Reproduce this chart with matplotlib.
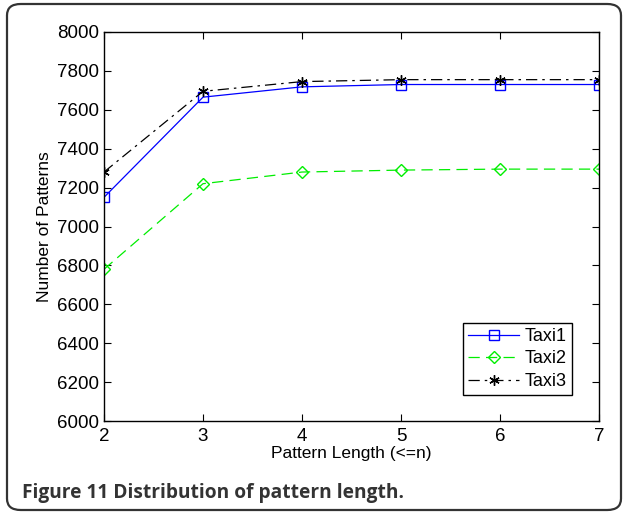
import numpy as np
import matplotlib.pyplot as plt
from matplotlib.patches import FancyBboxPatch

# ======================================================
# Data
# ======================================================

lengths = [2, 3, 4, 5, 6, 7]
taxi1 = [7150, 7665, 7718, 7730, 7730, 7730]
taxi2 = [6780, 7220, 7280, 7290, 7295, 7295]
taxi3 = [7280, 7695, 7745, 7755, 7755, 7755]

yticks = np.arange(6000, 8001, 200)

# ======================================================
# Figure
# ======================================================

plt.rcParams['font.family'] = ['Liberation Sans', 'DejaVu Sans']

W, H = 624, 516
fig = plt.figure(figsize=(W / 100, H / 100), dpi=100)

# rounded frame around the whole figure
frame = FancyBboxPatch((7 / W, 6 / H), 614 / W, 506 / H,
                       boxstyle="round,pad=0,rounding_size=0.022",
                       transform=fig.transFigure, fill=False,
                       edgecolor="#333333", linewidth=1.6)
fig.patches.append(frame)

ax = fig.add_axes([104 / W, 1 - 421 / H, 495 / W, 389 / H])

# matlab style line asterisk
star = (6, 2, 0)

ax.plot(lengths, taxi1, color="blue", linestyle="-", linewidth=0.9,
        marker="s", markersize=7, markerfacecolor="none", label="Taxi1")
ax.plot(lengths, taxi2, color="#00ee00", linestyle=(0, (9, 5)), linewidth=0.9,
        marker="D", markersize=6.5, markerfacecolor="none", label="Taxi2")
ax.plot(lengths, taxi3, color="black", linestyle=(0, (9, 4, 2, 4)), linewidth=0.9,
        marker=star, markersize=7.5, markeredgewidth=1.0, label="Taxi3")

ax.set_xlim(2, 7)
ax.set_ylim(6000, 8000)
ax.set_xticks(lengths)
ax.set_yticks(yticks)
ax.tick_params(direction="in", top=True, right=True, length=5,
               labelsize=13.5, width=0.8)
ax.tick_params(axis="x", pad=5)
for s in ax.spines.values():
    s.set_linewidth(1.0)

ax.set_xlabel("Pattern Length (<=n)", fontsize=12.5, labelpad=1)
ax.set_ylabel("Number of Patterns", fontsize=12.5, labelpad=4)

leg = ax.legend(loc="lower right", bbox_to_anchor=(0.945, 0.066), fontsize=13,
                fancybox=False, framealpha=1, edgecolor="black",
                handlelength=2.8, borderpad=0.3, labelspacing=0.3,
                handletextpad=0.3, borderaxespad=0)
leg.get_frame().set_linewidth(1.0)

fig.text(22 / W, 1 - 493 / H, "Figure 11 Distribution of pattern length.",
         fontsize=13.8, fontweight="bold", color="#333333",
         family=["Open Sans", "DejaVu Sans"], va="center", ha="left")

fig.savefig("out.png", dpi=100)
